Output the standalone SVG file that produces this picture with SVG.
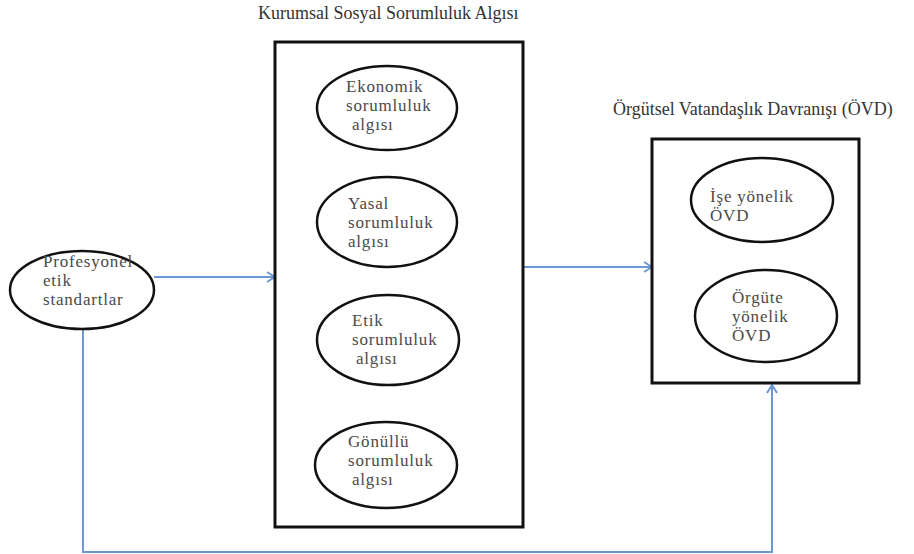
<svg xmlns="http://www.w3.org/2000/svg" width="914" height="554" viewBox="0 0 914 554">
<defs>
<style>
.box{fill:none;stroke:#111;stroke-width:3}
.ell{fill:#fff;stroke:#111;stroke-width:2.5}
.t{font-family:'Liberation Serif','DejaVu Serif',serif;font-size:17px;letter-spacing:0.8px;fill:#4a4a4a}
.title{font-family:'Liberation Serif','DejaVu Serif',serif;font-size:18px;fill:#333}
.c{fill:none;stroke:#6d97d0;stroke-width:2}
</style>
<marker id="arr" viewBox="0 0 12 12" refX="11" refY="6" markerWidth="12" markerHeight="12" markerUnits="userSpaceOnUse" orient="auto">
<path d="M3,1 L11,6 L3,11" fill="none" stroke="#6d97d0" stroke-width="2"/>
</marker>
</defs>
<rect width="914" height="554" fill="#fff"/>
<g id="connectors">
<line class="c" x1="154" y1="277" x2="275" y2="277" marker-end="url(#arr)"/>
<line class="c" x1="523" y1="267" x2="652" y2="267" marker-end="url(#arr)"/>
<polyline class="c" points="83,329 83,552 772,552 772,385" marker-end="url(#arr)"/>
</g>
<g id="kss">
<rect class="box" x="275" y="42" width="248" height="485"/>
<text class="title" x="258" y="19">Kurumsal Sosyal  Sorumluluk Algısı</text>
</g>
<g id="ovd">
<rect class="box" x="652" y="139" width="207" height="244"/>
<text class="title" x="613" y="115">Örgütsel Vatandaşlık  Davranışı (ÖVD)</text>
</g>
<g id="ekonomik">
<ellipse class="ell" cx="387" cy="108" rx="70" ry="42"/>
<text class="t" x="346" y="92">Ekonomik</text>
<text class="t" x="346" y="111">sorumluluk</text>
<text class="t" x="352" y="130">algısı</text>
</g>
<g id="yasal">
<ellipse class="ell" cx="387" cy="222" rx="70" ry="45"/>
<text class="t" x="348" y="209">Yasal</text>
<text class="t" x="348" y="228">sorumluluk</text>
<text class="t" x="348" y="247">algısı</text>
</g>
<g id="etik">
<ellipse class="ell" cx="388" cy="340" rx="71" ry="45"/>
<text class="t" x="352" y="326">Etik</text>
<text class="t" x="352" y="345">sorumluluk</text>
<text class="t" x="356" y="364">algısı</text>
</g>
<g id="gonullu">
<ellipse class="ell" cx="386" cy="465" rx="71" ry="43"/>
<text class="t" x="348" y="447">Gönüllü</text>
<text class="t" x="348" y="466">sorumluluk</text>
<text class="t" x="352" y="485">algısı</text>
</g>
<g id="ise">
<ellipse class="ell" cx="762" cy="200" rx="71" ry="42"/>
<text class="t" x="710" y="202">İşe yönelik</text>
<text class="t" x="710" y="221">ÖVD</text>
</g>
<g id="orgute">
<ellipse class="ell" cx="766" cy="316" rx="71" ry="46"/>
<text class="t" x="732" y="303">Örgüte</text>
<text class="t" x="732" y="322">yönelik</text>
<text class="t" x="732" y="341">ÖVD</text>
</g>
<g id="profesyonel">
<ellipse class="ell" cx="82" cy="290" rx="72" ry="39"/>
<text class="t" x="43" y="267">Profesyonel</text>
<text class="t" x="43" y="286">etik</text>
<text class="t" x="43" y="305">standartlar</text>
</g>
</svg>
